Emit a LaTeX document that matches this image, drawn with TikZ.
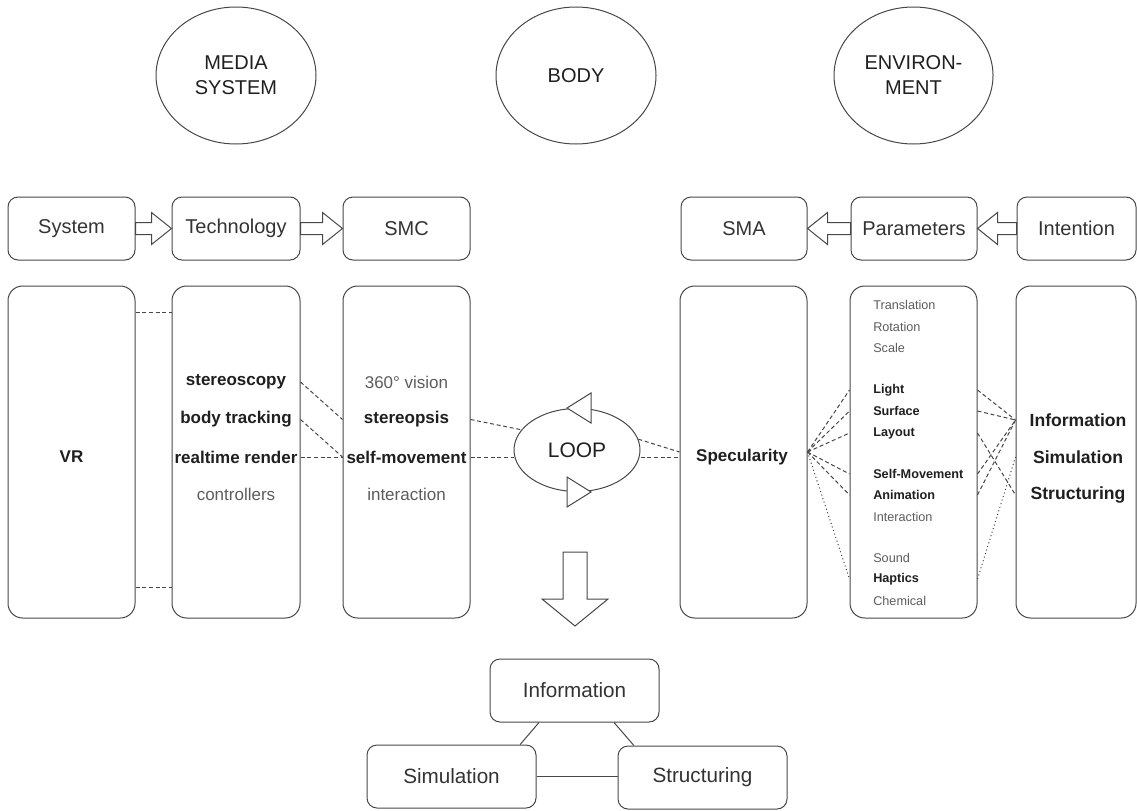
\documentclass[tikz,border=0pt]{standalone}
\usepackage{fontspec}
\setmainfont{Liberation Sans}
\usetikzlibrary{calc,shapes.geometric}

\definecolor{linegray}{HTML}{474747}
\definecolor{txtdark}{HTML}{1F1F1F}
\definecolor{txtgray}{HTML}{5C5C5C}

% hollow block arrow from #1 to #2
\newcommand\fatarrow[2]{%
  \draw[fatarr] ($(#1)+(0pt,4.5pt)$) -- ($(#2)!15pt!(#1)+(0pt,4.5pt)$)
    -- ($(#2)!15pt!(#1)+(0pt,12pt)$) -- (#2)
    -- ($(#2)!15pt!(#1)+(0pt,-12pt)$) -- ($(#2)!15pt!(#1)+(0pt,-4.5pt)$)
    -- ($(#1)+(0pt,-4.5pt)$) -- cycle;}

\begin{document}
\begin{tikzpicture}[x=0.75pt,y=-0.75pt,
  every node/.style={text=txtdark},
  circ/.style={draw=linegray,line width=0.75pt,ellipse,minimum width=120pt,minimum height=102.75pt,inner sep=0pt,align=center,font=\fontsize{15}{18.75}\selectfont},
  topbox/.style={draw=linegray,line width=0.75pt,rounded corners=7.5pt,minimum width=95.25pt,minimum height=47.25pt,inner sep=0pt,font=\fontsize{15}{18}\selectfont,text=black!80},
  colbox/.style={draw=linegray,line width=0.75pt,rounded corners=11pt,minimum width=95.25pt,minimum height=249pt,inner sep=0pt},
  botbox/.style={draw=linegray,line width=0.75pt,rounded corners=7.5pt,minimum width=126.75pt,minimum height=47.25pt,inner sep=0pt,font=\fontsize{15.5}{18}\selectfont,text=black!80},
  rowb/.style={font=\bfseries\fontsize{12.75}{15}\selectfont,inner sep=0pt},
  rowr/.style={font=\fontsize{12.75}{15}\selectfont,text=txtgray,inner sep=0pt},
  parb/.style={font=\bfseries\fontsize{9.5}{11}\selectfont,anchor=west,inner sep=0pt},
  parr/.style={font=\fontsize{9.5}{11}\selectfont,text=txtgray,anchor=west,inner sep=0pt},
  dashline/.style={draw=linegray,line width=0.75pt,dash pattern=on 3pt off 2pt},
  dotline/.style={draw=linegray,line width=0.75pt,dash pattern=on 0.8pt off 2pt},
  plainline/.style={draw=linegray,line width=0.75pt},
  fatarr/.style={draw=linegray,line width=0.75pt,fill=white}]

\useasboundingbox (0,0) rectangle (1137,810);

% headings
\node[circ] (media) at (236,75.5) {MEDIA\\SYSTEM};
\node[circ] (body) at (576,75.5) {BODY};
\node[circ,minimum width=119.25pt] (env) at (913.5,75.5) {ENVIRON-\\MENT};

% top row
\node[topbox] (sys) at (71.5,228.5) {System};
\node[topbox,minimum width=96pt] (tech) at (236,228.5) {Technology};
\node[topbox] (smc) at (406.5,228.5) {SMC};
\node[topbox,minimum width=94.5pt] (sma) at (744,228.5) {SMA};
\node[topbox,minimum width=94.5pt] (par) at (914,228.5) {Parameters};
\node[topbox,minimum width=89.25pt] (intent) at (1076.5,228.5) {Intention};

\fatarrow{sys.east}{tech.west}
\fatarrow{tech.east}{smc.west}
\fatarrow{par.west}{sma.east}
\fatarrow{intent.west}{par.east}

% columns
\node[colbox] (vr) at (71.5,452) {};
\node[colbox,minimum width=96pt] (techcol) at (236,452) {};
\node[colbox] (smccol) at (406.5,452) {};
\node[colbox] (spec) at (743.5,452) {};
\node[colbox] (parcol) at (913.5,452) {};
\node[colbox,minimum width=90pt] (intcol) at (1076,452) {};

\node[rowb] (vrlab) at (71.5,457) {VR};
\node[rowb] (speclab) at (742,457) {Specularity};

\foreach \y/\nm/\txt in {382/stcopy/stereoscopy,419.5/btrack/body tracking,457/rtrender/realtime render}
  \node[rowb] (\nm) at (236,\y) {\txt};
\node[rowr] (ctrl) at (236,494.5) {controllers};

\foreach \y/\nm/\txt in {382/vision/360° vision,494.5/interac/interaction}
  \node[rowr] (\nm) at (406.5,\y) {\txt};
\foreach \y/\nm/\txt in {419.5/stopsis/stereopsis,457/selfmov/self-movement}
  \node[rowb] (\nm) at (406.5,\y) {\txt};

\foreach \y/\nm/\txt in {305/transl/Translation,327/rot/Rotation,348/scl/Scale,517/inter/Interaction,558/sound/Sound,601/chem/Chemical}
  \node[parr] (\nm) at (873,\y) {\txt};
\foreach \y/\nm/\txt in {390/light/Light,411/surface/Surface,433/layout/Layout,474/selfmv/Self-Movement,495/anim/Animation,579/haptics/Haptics}
  \node[parb] (\nm) at (873,\y) {\txt};

\foreach \y/\nm/\txt in {420/inforow/Information,457/simrow/Simulation,495/strrow/Structuring}
  \node[rowb,font=\bfseries\fontsize{13.2}{15}\selectfont] (\nm) at (1078,\y) {\txt};

% loop
\node[draw=linegray,line width=0.75pt,ellipse,minimum width=94.5pt,minimum height=62.25pt,inner sep=0pt,font=\fontsize{15.75}{18}\selectfont] (loop) at (577,450) {LOOP};
\draw[fatarr] ([xshift=-7.5pt]loop.north) -- ++(18pt,11.25pt) -- ++(0pt,-22.5pt) -- cycle;
\draw[fatarr] ([xshift=-7.5pt]loop.south) -- ++(0pt,11.25pt) -- ++(18pt,-11.25pt) -- ++(-18pt,-11.25pt) -- cycle;

% links
\draw[dashline] ([yshift=-20pt]vr.north east) -- ([yshift=-20pt]techcol.north west);
\draw[dashline] ([yshift=23pt]vr.south east) -- ([yshift=23pt]techcol.south west);
\draw[dashline] (techcol.east |- stcopy) -- (smccol.west |- stopsis);
\draw[dashline] (techcol.east |- btrack) -- (smccol.west |- selfmov);
\draw[dashline] (techcol.east |- rtrender) -- (smccol.west |- selfmov);
\draw[dashline] (smccol.east |- stopsis) -- (loop.160);
\draw[dashline] (smccol.east |- selfmov) -- (loop.west |- selfmov);
\draw[dashline] (loop.10) -- (spec.west);
\draw[dashline] (loop.east |- speclab) -- (spec.west |- speclab);

\foreach \r in {light,surface,layout,selfmv,anim}
  \draw[dashline] (spec.east) -- (parcol.west |- \r);
\draw[dotline] (spec.east) -- (parcol.west |- haptics);
\foreach \r in {light,surface,selfmv,anim}
  \draw[dashline] (parcol.east |- \r) -- (intcol.west |- inforow);
\draw[dashline] (parcol.east |- layout) -- (intcol.west |- strrow);
\draw[dotline] (parcol.east |- haptics) -- (intcol.west |- simrow);

% result
\draw[fatarr] (563,552) -- (587,552) -- (587,599) -- (608,599) -- (575,626) -- (542,599) -- (563,599) -- cycle;

\node[botbox] (infobox) at (574.5,690.5) {Information};
\node[botbox] (simbox) at (451.5,776.5) {Simulation};
\node[botbox] (strbox) at (702.5,777.5) {Structuring};
\draw[plainline] (infobox.222) -- (simbox.25);
\draw[plainline] (infobox.321) -- (strbox.155);
\draw[plainline] (simbox.east) -- (strbox.west |- simbox.east);

\end{tikzpicture}
\end{document}
